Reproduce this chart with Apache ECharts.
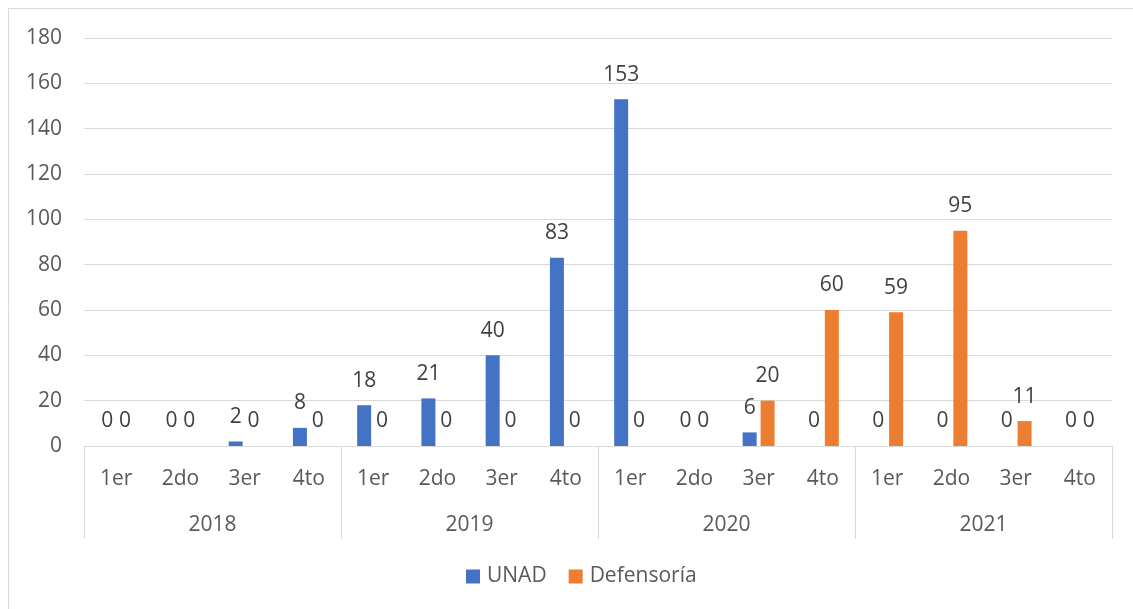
<!DOCTYPE html>
<html>
<head>
<meta charset="utf-8">
<script src="https://cdn.jsdelivr.net/npm/echarts@6/dist/echarts.min.js"></script>
<style>
  html, body { margin: 0; padding: 0; background: #fff; }
  #chart { width: 1133px; height: 609px; }
</style>
</head>
<body>
<div id="chart"></div>
<script>
// Quarterly counts per institution, 2018–2021
const quarters = ['1er', '2do', '3er', '4to'];
const years = ['2018', '2019', '2020', '2021'];
const categories = years.flatMap(y => quarters.map(q => q + ' ' + y));
const unad =       [0, 0, 2, 8,   18, 21, 40, 83,   153, 0, 6, 0,   0, 0, 0, 0];
const defensoria = [0, 0, 0, 0,   0, 0, 0, 0,       0, 0, 20, 60,   59, 95, 11, 0];
const yTicks = [0, 20, 40, 60, 80, 100, 120, 140, 160, 180];

const FONT = '"Open Sans", "Noto Sans", sans-serif';
const TEXT = '#595959';
const LINE = '#d9d9d9';

const chart = echarts.init(document.getElementById('chart'), null, { renderer: 'canvas' });

const barLabel = {
  show: true,
  position: 'top',
  distance: 14,
  color: '#404040',
  fontFamily: FONT,
  fontSize: 21,
  lineHeight: 21
};

chart.setOption({
  animation: false,
  backgroundColor: '#fff',
  textStyle: { fontFamily: FONT },
  graphic: [{
    type: 'rect',
    shape: { x: 8.5, y: 8.5, width: 2000, height: 2000 },
    style: { fill: 'none', stroke: LINE, lineWidth: 1 },
    silent: true
  }],
  grid: { left: 84, right: 21, top: 38, bottom: 163, containLabel: false },
  legend: {
    bottom: 17,
    left: 461,
    itemWidth: 14,
    itemHeight: 14,
    itemGap: 22,
    icon: 'rect',
    textStyle: { color: TEXT, fontSize: 21, fontFamily: FONT, padding: [0, 0, 0, 2] },
    data: ['UNAD', 'Defensoría']
  },
  xAxis: [
    {
      type: 'category',
      data: categories,
      position: 'bottom',
      axisLine: { show: true, lineStyle: { color: LINE, width: 1 } },
      axisTick: { show: false },
      axisLabel: {
        color: TEXT, fontSize: 21, fontFamily: FONT, margin: 23, interval: 0,
        formatter: v => v.split(' ')[0]
      },
      splitLine: { show: false }
    },
    {
      type: 'category',
      data: years,
      position: 'bottom',
      axisLine: { show: false },
      axisTick: { show: true, length: 93, interval: 0, lineStyle: { color: LINE, width: 1 } },
      axisLabel: { color: TEXT, fontSize: 21, fontFamily: FONT, margin: 69, interval: 0 },
      splitLine: { show: false }
    }
  ],
  yAxis: {
    type: 'value',
    min: 0,
    max: yTicks[yTicks.length - 1],
    interval: yTicks[1] - yTicks[0],
    axisLine: { show: false },
    axisTick: { show: false },
    axisLabel: { color: TEXT, fontSize: 21, fontFamily: FONT, margin: 22 },
    splitLine: { lineStyle: { color: LINE, width: 1 } }
  },
  series: [
    {
      name: 'UNAD',
      type: 'bar',
      xAxisIndex: 0,
      data: unad,
      barWidth: 14,
      barGap: '28%',
      itemStyle: { color: '#4472C4' },
      label: barLabel
    },
    {
      name: 'Defensoría',
      type: 'bar',
      xAxisIndex: 0,
      data: defensoria,
      barWidth: 14,
      barGap: '28%',
      itemStyle: { color: '#ED7D31' },
      label: barLabel
    }
  ]
});
</script>
</body>
</html>
